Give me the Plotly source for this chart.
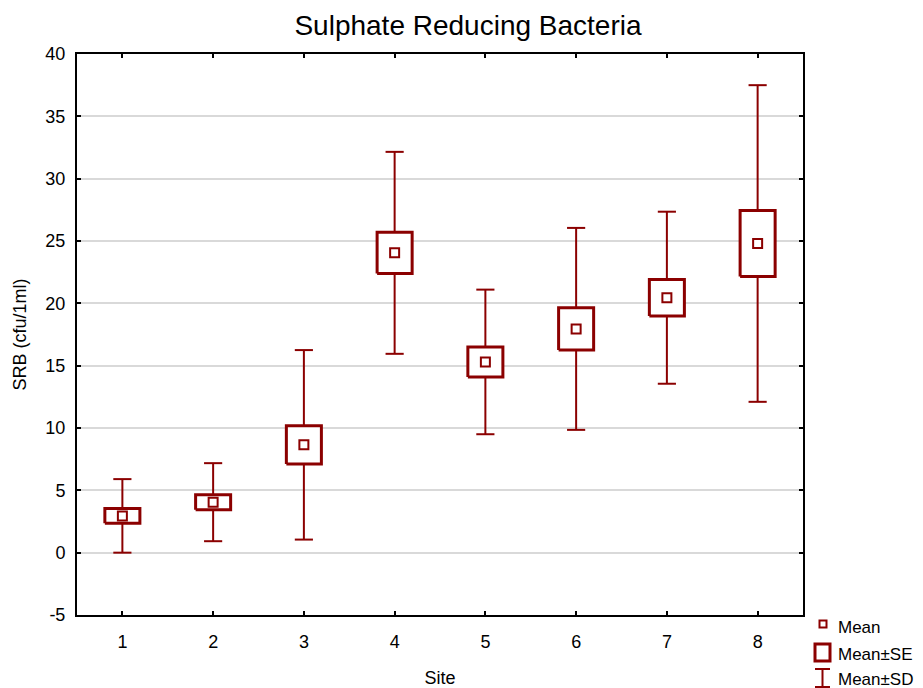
import plotly.graph_objects as go

sites = [1, 2, 3, 4, 5, 6, 7, 8]
means = [2.95, 4.05, 8.65, 24.05, 15.3, 17.95, 20.45, 24.8]
se = [0.6, 0.6, 1.53, 1.65, 1.2, 1.7, 1.47, 2.65]
sd = [2.95, 3.13, 7.6, 8.1, 5.8, 8.1, 6.9, 12.7]
y_ticks = [-5, 0, 5, 10, 15, 20, 25, 30, 35, 40]
y_ticktext = ["-5", "0", "5", "10", "15", "20", "25", "30", "35", "40"]

COL = "#8b0000"
FONT = "Arial, Liberation Sans, sans-serif"
BOX_HW = 0.193
CAP_HW = 0.1

# whiskers (Mean±SD)
wx, wy = [], []
for s, m, e, d in zip(sites, means, se, sd):
    wx += [s, s, None, s - CAP_HW, s + CAP_HW, None,
           s, s, None, s - CAP_HW, s + CAP_HW, None]
    wy += [m + e, m + d, None, m + d, m + d, None,
           m - e, m - d, None, m - d, m - d, None]

# boxes (Mean±SE)
bx, by = [], []
for s, m, e in zip(sites, means, se):
    bx += [s - BOX_HW, s + BOX_HW, s + BOX_HW, s - BOX_HW, s - BOX_HW, None]
    by += [m - e, m - e, m + e, m + e, m - e, None]

fig = go.Figure()
fig.add_trace(go.Scatter(x=wx, y=wy, mode="lines", line=dict(color=COL, width=2),
                         showlegend=False, hoverinfo="skip"))
fig.add_trace(go.Scatter(x=bx, y=by, mode="lines", fill="toself", fillcolor="white",
                         line=dict(color=COL, width=3), showlegend=False, hoverinfo="skip"))
fig.add_trace(go.Scatter(x=sites, y=means, mode="markers",
                         marker=dict(symbol="square", size=9, color="white",
                                     line=dict(color=COL, width=2)),
                         showlegend=False))

L, T, W, H = 77, 54, 726, 561


def px(x):
    return (x - L) / W


def py(y):
    return (T + H - y) / H


shapes = []
# Legend glyphs
shapes.append(dict(type="rect", xref="paper", yref="paper",
                   x0=px(819.5), x1=px(826.5), y0=py(627.5), y1=py(620.5),
                   line=dict(color=COL, width=2), fillcolor="white"))
shapes.append(dict(type="rect", xref="paper", yref="paper",
                   x0=px(815), x1=px(830), y0=py(661), y1=py(644),
                   line=dict(color=COL, width=3), fillcolor="white"))
shapes.append(dict(type="line", xref="paper", yref="paper",
                   x0=px(822.5), x1=px(822.5), y0=py(669), y1=py(687),
                   line=dict(color=COL, width=2)))
shapes.append(dict(type="line", xref="paper", yref="paper",
                   x0=px(815), x1=px(830), y0=py(669), y1=py(669),
                   line=dict(color=COL, width=2)))
shapes.append(dict(type="line", xref="paper", yref="paper",
                   x0=px(815), x1=px(830), y0=py(687), y1=py(687),
                   line=dict(color=COL, width=2)))

annotations = []
for label, yc in [("Mean", 627), ("Mean±SE", 654), ("Mean±SD", 679)]:
    annotations.append(dict(text=label, xref="paper", yref="paper", x=px(836), y=py(yc),
                            xanchor="left", yanchor="middle", showarrow=False,
                            font=dict(family=FONT, size=17, color="black")))

fig.update_layout(
    width=923, height=688,
    margin=dict(l=L, r=923 - L - W, t=T, b=688 - T - H, autoexpand=False),
    paper_bgcolor="white", plot_bgcolor="white",
    title=dict(text="Sulphate Reducing Bacteria", x=468 / 923, xref="container",
               xanchor="center", y=1 - 25 / 688, yref="container", yanchor="middle",
               font=dict(family=FONT, size=28, color="black")),
    font=dict(family=FONT, size=18, color="black"),
    shapes=shapes, annotations=annotations,
    showlegend=False,
)
fig.update_xaxes(range=[0.5, 8.5], tickvals=sites, ticktext=[str(s) for s in sites],
                 ticks="inside", ticklen=4, tickcolor="black", tickwidth=1.5,
                 showline=True, linecolor="black", linewidth=2, mirror="ticks",
                 showgrid=False, zeroline=False, ticklabelstandoff=9, automargin=False,
                 title=dict(text="Site", font=dict(family=FONT, size=18), standoff=24),
                 tickfont=dict(family=FONT, size=18))
fig.update_yaxes(range=[-5, 40], tickvals=y_ticks, ticktext=y_ticktext,
                 ticks="inside", ticklen=4, tickcolor="black", tickwidth=1.5,
                 showline=True, linecolor="black", linewidth=2, mirror="ticks",
                 showgrid=True, gridcolor="#d9d9d9", gridwidth=1.5, zeroline=False,
                 ticklabelstandoff=6, automargin=False,
                 title=dict(text="SRB (cfu/1ml)", font=dict(family=FONT, size=18), standoff=14),
                 tickfont=dict(family=FONT, size=18))

fig.write_html("out.html")
